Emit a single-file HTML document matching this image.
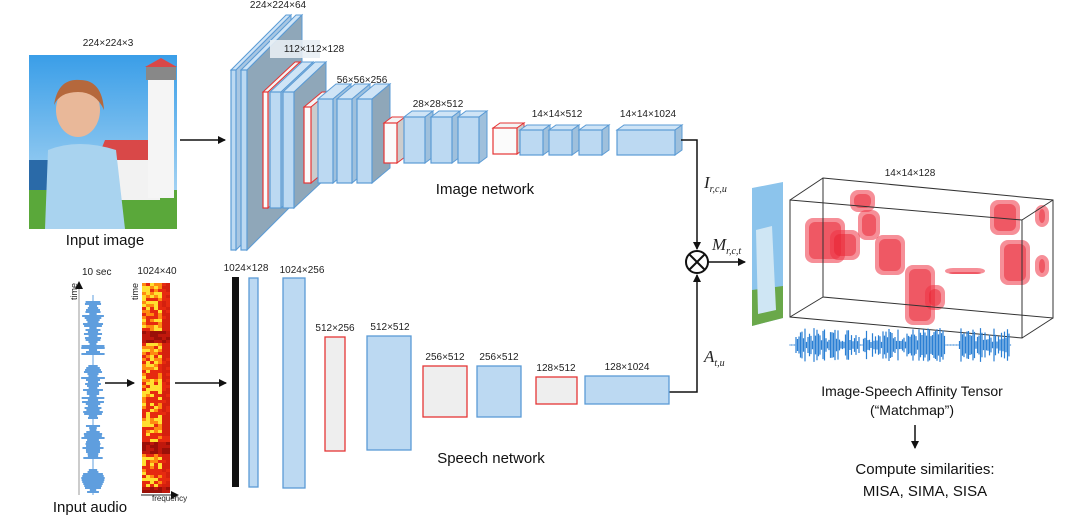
<!DOCTYPE html>
<html><head><meta charset="utf-8"><style>
html,body{margin:0;padding:0;background:#fff;width:1080px;height:522px;overflow:hidden}
svg{display:block}
text{font-family:"Liberation Sans",sans-serif;fill:#222}
.s{font-size:10px}
.m{font-size:15px;fill:#111}
.it{font-family:"Liberation Serif",serif;font-style:italic;font-size:17px}
.sub{font-size:10px}
</style></head><body>
<svg id="sv" width="1080" height="522" viewBox="0 0 1080 522" xmlns="http://www.w3.org/2000/svg">
<defs>
<linearGradient id="sky" x1="0" y1="0" x2="0" y2="1"><stop offset="0" stop-color="#3a9ee8"/><stop offset="1" stop-color="#bfe0f5"/></linearGradient>
<marker id="ar" markerWidth="8" markerHeight="8" refX="7" refY="4" orient="auto" markerUnits="userSpaceOnUse"><path d="M0,0 L8,4 L0,8 z" fill="#111"/></marker>
</defs>
<!-- input image -->
<text x="108" y="46" class="s" text-anchor="middle">224×224×3</text>
<rect x="29" y="55" width="148" height="174" fill="url(#sky)"/>
<rect x="29" y="190" width="148" height="39" fill="#5aa83a"/>
<rect x="29" y="160" width="20" height="30" fill="#2a6aa8"/>
<polygon points="105,140 150,140 160,165 95,165" fill="#d94848"/>
<rect x="105" y="160" width="55" height="40" fill="#f2f2f2"/>
<rect x="148" y="78" width="26" height="120" fill="#f5f5f5"/>
<rect x="146" y="66" width="30" height="14" fill="#888"/>
<polygon points="145,67 161,58 177,67" fill="#d94848"/>
<ellipse cx="78" cy="110" rx="22" ry="27" fill="#e9b899"/>
<path d="M54,105 Q58,78 80,80 Q102,80 104,110 Q96,92 78,92 Q60,92 54,105z" fill="#b5683c"/>
<path d="M48,150 Q78,138 116,150 L125,229 L45,229 z" fill="#a9d3ef"/>
<text x="105" y="245" class="m" text-anchor="middle">Input image</text>
<line x1="180" y1="140" x2="225" y2="140" stroke="#111" stroke-width="1.5" marker-end="url(#ar)"/>
<g id="layers"></g>
<text x="278" y="8" class="s" text-anchor="middle">224×224×64</text>
<rect x="270" y="40" width="50" height="18" fill="#e8eef4" opacity="0.9"/>
<text x="314" y="52" class="s" text-anchor="middle">112×112×128</text>
<text x="362" y="83" class="s" text-anchor="middle">56×56×256</text>
<text x="438" y="107" class="s" text-anchor="middle">28×28×512</text>
<text x="557" y="117" class="s" text-anchor="middle">14×14×512</text>
<text x="648" y="117" class="s" text-anchor="middle">14×14×1024</text>
<text x="485" y="194" class="m" text-anchor="middle">Image network</text>
<!-- connectors -->
<polyline points="681,140 697,140 697,249" fill="none" stroke="#111" stroke-width="1.5" marker-end="url(#ar)"/>
<polyline points="669,392 697,392 697,275" fill="none" stroke="#111" stroke-width="1.5" marker-end="url(#ar)"/>
<circle cx="697" cy="262" r="11" fill="#fff" stroke="#111" stroke-width="2"/>
<line x1="689" y1="254" x2="705" y2="270" stroke="#111" stroke-width="2"/>
<line x1="705" y1="254" x2="689" y2="270" stroke="#111" stroke-width="2"/>
<line x1="708" y1="262" x2="745" y2="262" stroke="#111" stroke-width="1.5" marker-end="url(#ar)"/>
<text x="704" y="188" class="it">I<tspan class="sub" dy="4">r,c,u</tspan></text>
<text x="712" y="250" class="it">M<tspan class="sub" dy="4">r,c,t</tspan></text>
<text x="704" y="362" class="it">A<tspan class="sub" dy="4">t,u</tspan></text>
<!-- small skewed photo -->
<polygon points="752,188 783,182 783,318 752,326" fill="#8cc4ec"/>
<polygon points="752,290 783,286 783,318 752,326" fill="#6aa84a"/>
<polygon points="756,230 772,226 776,310 758,314" fill="#cfe6f4"/>
<!-- tensor -->
<text x="910" y="176" class="s" text-anchor="middle">14×14×128</text>
<g id="blobs"></g>
<g fill="none" stroke="#333" stroke-width="1">
<polygon points="823,178 1053,200 1053,318 823,297"/>
<polygon points="790,200 1022,220 1022,338 790,317"/>
<line x1="790" y1="200" x2="823" y2="178"/><line x1="1022" y1="220" x2="1053" y2="200"/>
<line x1="1022" y1="338" x2="1053" y2="318"/><line x1="790" y1="317" x2="823" y2="297"/>
</g>
<g id="wave2"></g>
<text x="912" y="396" class="m" text-anchor="middle" style="font-size:14px">Image-Speech Affinity Tensor</text>
<text x="912" y="415" class="m" text-anchor="middle" style="font-size:14px">(“Matchmap”)</text>
<line x1="915" y1="425" x2="915" y2="448" stroke="#111" stroke-width="1.5" marker-end="url(#ar)"/>
<text x="925" y="474" class="m" text-anchor="middle">Compute similarities:</text>
<text x="925" y="496" class="m" text-anchor="middle">MISA, SIMA, SISA</text>
<!-- audio -->
<line x1="79" y1="495" x2="79" y2="282" stroke="#999" stroke-width="1" marker-end="url(#ar)"/>
<text x="0" y="0" transform="translate(77,300) rotate(-90)" style="font-size:9px">time</text>
<text x="82" y="275" class="s">10 sec</text>
<g id="wave1"></g>
<line x1="105" y1="383" x2="134" y2="383" stroke="#111" stroke-width="1.5" marker-end="url(#ar)"/>
<text x="157" y="274" class="s" text-anchor="middle">1024×40</text>
<text x="0" y="0" transform="translate(138,300) rotate(-90)" style="font-size:9px">time</text>
<g id="spec"></g>
<line x1="141" y1="495" x2="178" y2="495" stroke="#222" stroke-width="1" marker-end="url(#ar)"/>
<text x="152" y="501" style="font-size:8px">frequency</text>
<line x1="175" y1="383" x2="226" y2="383" stroke="#111" stroke-width="1.5" marker-end="url(#ar)"/>
<text x="90" y="512" class="m" text-anchor="middle">Input audio</text>
<!-- speech network -->
<rect x="232" y="277" width="7" height="210" fill="#111"/>
<g stroke-width="1.3">
<rect x="249" y="278" width="9" height="209" fill="#bcd9f2" stroke="#5b9bd5"/>
<rect x="283" y="278" width="22" height="210" fill="#bcd9f2" stroke="#5b9bd5"/>
<rect x="325" y="337" width="20" height="114" fill="#eee" stroke="#e53535"/>
<rect x="367" y="336" width="44" height="114" fill="#bcd9f2" stroke="#5b9bd5"/>
<rect x="423" y="366" width="44" height="51" fill="#eee" stroke="#e53535"/>
<rect x="477" y="366" width="44" height="51" fill="#bcd9f2" stroke="#5b9bd5"/>
<rect x="536" y="377" width="41" height="27" fill="#eee" stroke="#e53535"/>
<rect x="585" y="376" width="84" height="28" fill="#bcd9f2" stroke="#5b9bd5"/>
</g>
<text x="246" y="271" class="s" text-anchor="middle">1024×128</text>
<text x="302" y="273" class="s" text-anchor="middle">1024×256</text>
<text x="335" y="331" class="s" text-anchor="middle">512×256</text>
<text x="390" y="330" class="s" text-anchor="middle">512×512</text>
<text x="445" y="360" class="s" text-anchor="middle">256×512</text>
<text x="499" y="360" class="s" text-anchor="middle">256×512</text>
<text x="556" y="371" class="s" text-anchor="middle">128×512</text>
<text x="627" y="370" class="s" text-anchor="middle">128×1024</text>
<text x="491" y="463" class="m" text-anchor="middle">Speech network</text>
</svg>
<script>
var NS="http://www.w3.org/2000/svg";
function el(p,t,a){var e=document.createElementNS(NS,t);for(var k in a)e.setAttribute(k,a[k]);p.appendChild(e);return e;}
var L=document.getElementById('layers');
function box(x,y,w,h,dx,dy,red,side){
 var st=red?'#e53535':'#5b9bd5', fr=red?'#fbfbfb':'#bcd9f2';
 el(L,'polygon',{points:[x,y,x+dx,y+dy,x+w+dx,y+dy,x+w,y].join(' '),fill:red?'#f4f4f4':'#cfe4f6',stroke:st,'stroke-width':1});
 el(L,'polygon',{points:[x+w,y,x+w+dx,y+dy,x+w+dx,y+h+dy,x+w,y+h].join(' '),fill:side||(red?'#ccc':'#9fc0dc'),stroke:st,'stroke-width':1});
 el(L,'rect',{x:x,y:y,width:w,height:h,fill:fr,stroke:st,'stroke-width':1.2});
}
box(231,70,5,180,55,-55,false,'#a8c6e2');
box(241,70,6,180,55,-55,false,'#8fa7b9');
box(263,92,5,116,32,-30,true);
box(270,92,11,116,32,-30);
box(283,92,11,116,32,-30,false,'#8fa7b9');
box(304,107,7,76,18,-15,true);
box(318,99,15,84,18,-15);
box(337,99,15,84,18,-15);
box(357,99,15,84,18,-15,false,'#8fa7b9');
box(384,123,13,40,8,-6,true);
box(404,117,21,46,8,-6);
box(431,117,21,46,8,-6);
box(458,117,21,46,8,-6);
box(493,128,24,26,7,-5,true);
box(520,130,23,25,7,-5);
box(549,130,23,25,7,-5);
box(579,130,23,25,7,-5);
box(617,130,58,25,7,-5);
var s=7;function r(){s=(s*9301+49297)%233280;return s/233280;}
var W=document.getElementById('wave1'),d='';
for(var y=296;y<495;y+=2){var seg=(y>300&&y<355)||(y>365&&y<420)||(y>425&&y<460)||(y>468&&y<494);var a=seg?(3+r()*9):0.5;d+='M'+(93-a)+','+y+'H'+(93+a);}
el(W,'path',{d:d,stroke:'#2a7fd4','stroke-width':1.6});
var W2=document.getElementById('wave2');d='';
for(var x=790;x<1012;x+=1.5){var seg=(x>795&&x<860)||(x>862&&x<945)||(x>958&&x<1010);var a=seg?(3+r()*14):0.5;d+='M'+x+','+(345-a)+'V'+(345+a);}
el(W2,'path',{d:d,stroke:'#2a7fd4','stroke-width':1.2});
var S=document.getElementById('spec');
el(S,'rect',{x:142,y:283,width:28,height:210,fill:'#e8200f'});
for(var y=283;y<493;y+=3){for(var x=142;x<170;x+=4){var v=r();var dark=(y>330&&y<342)||(y>440&&y<452)||(y>484);var c=dark?(v<0.5?'#9a1008':'#c0180c'):(v<0.3?'#ffe030':(v<0.55?'#ff8a10':'#e62a10'));if(x>158&&!dark&&v<0.7)c='#d4200e';el(S,'rect',{x:x,y:y,width:4,height:3,fill:c});}}
var B=document.getElementById('blobs');
var bl=[[805,218,40,45],[830,230,30,30],[850,190,25,22],[858,210,22,30],[875,235,30,40],[905,265,30,60],[925,285,20,25],[990,200,30,35],[1000,240,30,45],[1035,205,14,22],[1035,255,14,22],[945,268,40,6]];
bl.forEach(function(b){el(B,'rect',{x:b[0],y:b[1],width:b[2],height:b[3],rx:8,fill:'#ee3344',opacity:0.55});el(B,'rect',{x:b[0]+4,y:b[1]+4,width:b[2]-8,height:Math.max(2,b[3]-8),rx:6,fill:'#e8222f',opacity:0.5});});
</script>
</body></html>
